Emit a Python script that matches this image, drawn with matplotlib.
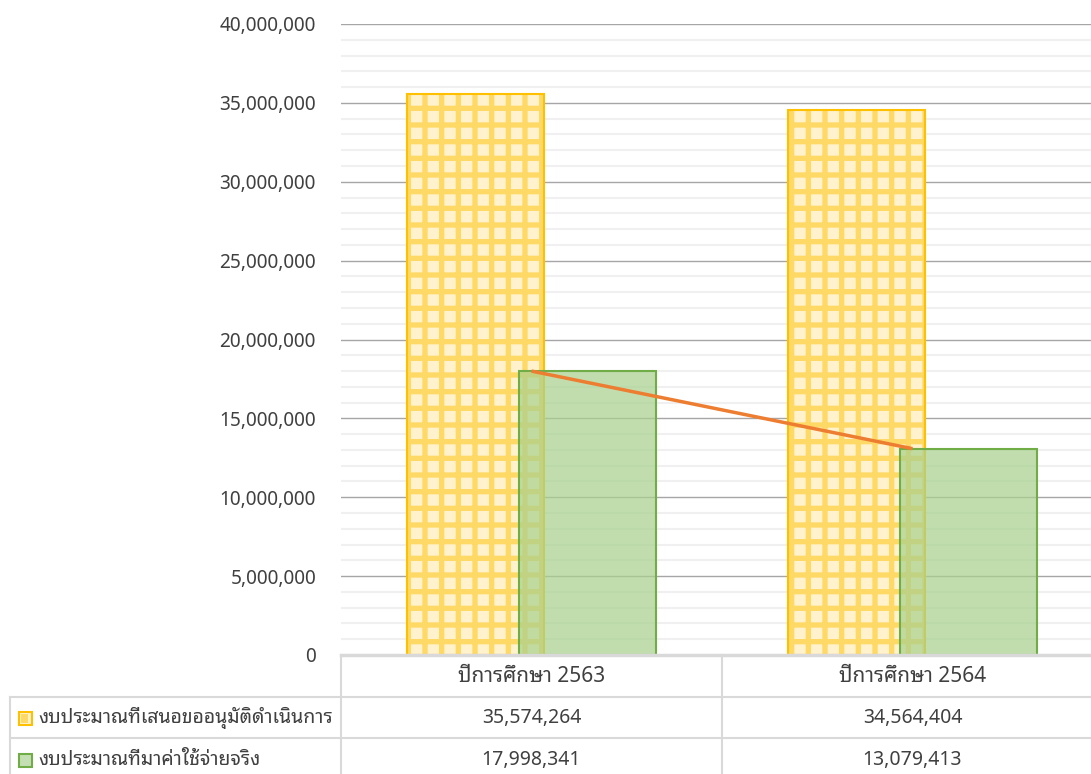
import matplotlib
matplotlib.use("Agg")
import matplotlib.pyplot as plt
from matplotlib.ticker import FuncFormatter, MultipleLocator
from matplotlib.patches import Rectangle

# ---------------- data ----------------
categories = ["ปีการศึกษา 2563", "ปีการศึกษา 2564"]
series_names = ["งบประมาณที่เสนอขออนุมัติดำเนินการ", "งบประมาณที่มาค่าใช้จ่ายจริง"]
proposed = [35574264, 34564404]
actual = [17998341, 13079413]
y_ticks = [0, 5000000, 10000000, 15000000, 20000000, 25000000, 30000000, 35000000, 40000000]

plt.rcParams["font.family"] = ["Noto Sans", "Noto Sans Thai Looped", "DejaVu Sans"]

W, H = 1091, 774
fig = plt.figure(figsize=(W / 100, H / 100), dpi=100)
ax = fig.add_axes([341 / W, 1 - 655 / H, (1103 - 341) / W, (655 - 24) / H])

x = [0, 1]
bw = 0.357
off = 0.147
text_col = "#404040"

plt.rcParams["hatch.linewidth"] = 3.8
plt.rcParams["hatch.color"] = "#FFD966"
ax.bar([i - off for i in x], proposed, width=bw, color="#FFF2CC", hatch="+",
       edgecolor="#FFD966", linewidth=0, zorder=3)
ax.bar([i - off for i in x], proposed, width=bw, fill=False,
       edgecolor="#FFC000", linewidth=1.5, zorder=4)
ax.bar([i + off for i in x], actual, width=bw, color="#A9D18E", alpha=0.72,
       edgecolor="none", zorder=5)
ax.bar([i + off for i in x], actual, width=bw, fill=False,
       edgecolor="#70AD47", linewidth=1.5, zorder=6)
ax.plot(x, actual, color="#ED7D31", linewidth=2.5, zorder=7, solid_capstyle="butt")

ax.set_xlim(-0.5, 1.5)
ax.set_ylim(0, 40000000)
ax.set_yticks(y_ticks)
ax.yaxis.set_minor_locator(MultipleLocator(1000000))
ax.yaxis.set_major_formatter(FuncFormatter(lambda v, p: f"{int(v):,}"))
ax.grid(axis="y", which="major", color="#A6A6A6", linewidth=1.0, zorder=1)
ax.grid(axis="y", which="minor", color="#F0F0F0", linewidth=1.5, zorder=0)
ax.tick_params(axis="y", which="both", length=0, pad=18, labelsize=13.7, labelcolor=text_col)
ax.tick_params(axis="x", which="both", length=0, labelbottom=False)
for s in ax.spines.values():
    s.set_visible(False)

# ---------------- data table ----------------
def fx(px):
    return px / W

def fy(py):
    return 1 - py / H

line_col = "#D9D9D9"
lw = 1.5
rows_y = [655, 697, 738, 780]
col_x = [10, 341, 722, 1103]
fig.add_artist(plt.Line2D([fx(341), fx(1103)], [fy(655), fy(655)], color=line_col, lw=2.5))
for yy in rows_y[1:]:
    fig.add_artist(plt.Line2D([fx(10), fx(1103)], [fy(yy), fy(yy)], color=line_col, lw=lw))
fig.add_artist(plt.Line2D([fx(10), fx(10)], [fy(697), fy(780)], color=line_col, lw=lw))
for xx in col_x[1:]:
    fig.add_artist(plt.Line2D([fx(xx), fx(xx)], [fy(655), fy(780)], color=line_col, lw=lw))

centers = [(341 + 722) / 2, (722 + 1103) / 2]
fs = 14
for c, lab in zip(centers, categories):
    fig.text(fx(c), fy(677), lab, ha="center", va="center", fontsize=15, color=text_col)
for c, v in zip(centers, proposed):
    fig.text(fx(c), fy(718), f"{v:,}", ha="center", va="center", fontsize=fs, color=text_col)
for c, v in zip(centers, actual):
    fig.text(fx(c), fy(760), f"{v:,}", ha="center", va="center", fontsize=fs, color=text_col)

# legend keys
fig.add_artist(Rectangle((fx(19), fy(725)), 13 / W, 13 / H, facecolor="#FFF2CC",
                         edgecolor="#FFC000", lw=1.5))
fig.add_artist(Rectangle((fx(21), fy(723)), 7 / W, 9 / H, facecolor="#FFD966",
                         edgecolor="none"))
fig.add_artist(Rectangle((fx(19), fy(767)), 13 / W, 13 / H, facecolor="#C5DFB4",
                         edgecolor="#70AD47", lw=1.5))
fig.text(fx(38), fy(718), series_names[0], ha="left", va="center", fontsize=fs, color=text_col)
fig.text(fx(38), fy(760), series_names[1], ha="left", va="center", fontsize=fs, color=text_col)

fig.savefig("out.png", dpi=100)
